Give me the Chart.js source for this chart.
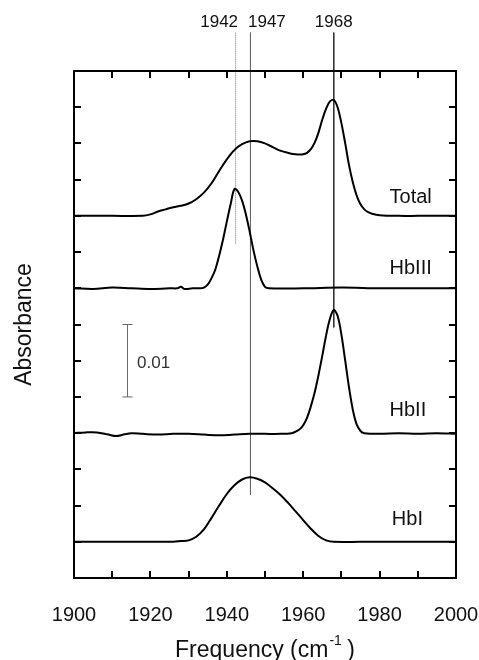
<!DOCTYPE html>
<html>
<head>
<meta charset="utf-8">
<script src="https://cdn.jsdelivr.net/npm/chart.js@4.4.0/dist/chart.umd.min.js"></script>
<style>
  html, body { margin: 0; padding: 0; background: #fff; }
  #wrap { width: 479px; height: 660px; }
</style>
</head>
<body>
<div id="wrap"><canvas id="chart" width="479" height="660"></canvas></div>
<script>
// Spectra (frequency in cm-1, absorbance incl. stacking offset)
const totalFreq = [1900, 1910, 1918, 1920, 1922, 1924, 1926, 1928, 1930, 1932, 1934, 1936, 1938, 1940, 1942, 1944, 1946, 1948, 1950, 1952, 1954, 1956, 1958, 1960, 1961, 1962, 1963, 1964, 1965, 1966, 1967, 1968, 1969, 1970, 1971, 1972, 1973, 1974, 1975, 1976, 1977, 1978, 1980, 1985, 1990, 2000];
const totalAbs  = [0.0500, 0.0500, 0.0500, 0.0502, 0.0506, 0.0509, 0.0512, 0.0514, 0.0517, 0.0523, 0.0532, 0.0545, 0.0562, 0.0578, 0.0591, 0.0599, 0.0603, 0.0603, 0.0600, 0.0595, 0.0590, 0.0587, 0.0585, 0.0585, 0.0587, 0.0592, 0.0601, 0.0615, 0.0633, 0.0648, 0.0658, 0.0660, 0.0650, 0.0628, 0.0600, 0.0570, 0.0546, 0.0528, 0.0516, 0.0509, 0.0505, 0.0503, 0.0501, 0.0500, 0.0500, 0.0500];

const hb3Freq = [1900, 1905, 1910, 1915, 1920, 1925, 1927, 1928, 1929, 1931, 1933, 1934, 1935, 1936, 1937, 1938, 1939, 1940, 1941, 1942, 1943, 1944, 1945, 1946, 1947, 1948, 1949, 1950, 1951, 1960, 1970, 1980, 1990, 2000];
const hb3Abs  = [0.0400, 0.0399, 0.0401, 0.0400, 0.0399, 0.0400, 0.0400, 0.0402, 0.0399, 0.0400, 0.0400, 0.0401, 0.0405, 0.0414, 0.0426, 0.0445, 0.0467, 0.0492, 0.0516, 0.0537, 0.0533, 0.0521, 0.0502, 0.0478, 0.0452, 0.0430, 0.0412, 0.0402, 0.0400, 0.0400, 0.0401, 0.0400, 0.0400, 0.0400];

const hb2Freq = [1900, 1903, 1906, 1909, 1911, 1913, 1915, 1918, 1922, 1926, 1930, 1934, 1938, 1942, 1946, 1950, 1954, 1957, 1958, 1959, 1960, 1961, 1962, 1963, 1964, 1965, 1966, 1967, 1968, 1969, 1970, 1971, 1972, 1973, 1974, 1975, 1976, 1980, 1985, 1990, 1995, 2000];
const hb2Abs  = [0.0200, 0.0201, 0.0201, 0.0198, 0.0196, 0.0198, 0.0200, 0.0199, 0.0198, 0.0199, 0.0199, 0.0198, 0.0197, 0.0198, 0.0199, 0.0199, 0.0199, 0.0200, 0.0202, 0.0205, 0.0211, 0.0221, 0.0237, 0.0256, 0.0280, 0.0307, 0.0335, 0.0358, 0.0370, 0.0362, 0.0336, 0.0300, 0.0263, 0.0232, 0.0212, 0.0203, 0.0200, 0.0199, 0.0200, 0.0199, 0.0200, 0.0199];

const hb1Freq = [1900, 1910, 1920, 1926, 1928, 1930, 1932, 1934, 1936, 1938, 1940, 1942, 1944, 1946, 1948, 1950, 1952, 1954, 1956, 1958, 1960, 1962, 1964, 1966, 1968, 1975, 1990, 2000];
const hb1Abs  = [0.0050, 0.0050, 0.0050, 0.0050, 0.0051, 0.0052, 0.0057, 0.0067, 0.0083, 0.0100, 0.0116, 0.0128, 0.0136, 0.0139, 0.0137, 0.0132, 0.0124, 0.0115, 0.0104, 0.0092, 0.0080, 0.0068, 0.0058, 0.0052, 0.0050, 0.0050, 0.0050, 0.0050];

const seriesNames = ['Total', 'HbIII', 'HbII', 'HbI'];

// Peak marker lines
const peakFreq = [1942.3, 1946.2, 1968.0];
const peakLabels = ['1942', '1947', '1968'];
const peakLineBottom = [0.0461, 0.0115, 0.0346];
const peakLineTop = 0.0753;

// Scale bar (0.01 absorbance)
const barFreq = 1914;
const barAbs = [0.025, 0.035];

const xTickLabels = [1900, 1920, 1940, 1960, 1980, 2000];

const FONT = "'Liberation Sans', Arial, sans-serif";

function pts(xs, ys) {
  return xs.map((v, i) => ({ x: v, y: ys[i] }));
}

function spectrum(label, xs, ys) {
  return {
    label,
    data: pts(xs, ys),
    borderColor: '#000',
    borderWidth: 2,
    pointRadius: 0,
    tension: 0.35,
    fill: false
  };
}

const peakStyles = [
  { color: '#777', dash: [1, 1] },
  { color: '#666', dash: [] },
  { color: '#333', dash: [] }
];

const datasets = [
  spectrum(seriesNames[0], totalFreq, totalAbs),
  spectrum(seriesNames[1], hb3Freq, hb3Abs),
  spectrum(seriesNames[2], hb2Freq, hb2Abs),
  spectrum(seriesNames[3], hb1Freq, hb1Abs)
];

peakFreq.forEach((f, i) => {
  datasets.push({
    label: 'peak ' + peakLabels[i],
    data: [{ x: f, y: peakLineTop }, { x: f, y: peakLineBottom[i] }],
    borderColor: peakStyles[i].color,
    borderDash: peakStyles[i].dash,
    borderWidth: 1,
    pointRadius: 0,
    clip: false
  });
});

datasets.push({
  label: 'scale bar',
  data: barAbs.map(v => ({ x: barFreq, y: v })),
  borderColor: '#666',
  borderWidth: 1,
  pointStyle: 'line',
  pointRadius: 5,
  pointBorderColor: '#666',
  pointBorderWidth: 1
});

// Frame, inward ticks and annotation texts
const overlay = {
  id: 'overlay',
  afterDraw(chart) {
    const { ctx, chartArea: a, scales: { x, y } } = chart;
    ctx.save();
    ctx.strokeStyle = '#000';
    ctx.lineWidth = 2;
    ctx.strokeRect(a.left, a.top, a.right - a.left, a.bottom - a.top);

    const tl = 7;
    ctx.beginPath();
    x.ticks.forEach(t => {
      if (t.value <= x.min || t.value >= x.max) return;
      const px = Math.round(x.getPixelForValue(t.value));
      ctx.moveTo(px, a.bottom); ctx.lineTo(px, a.bottom - tl);
      ctx.moveTo(px, a.top); ctx.lineTo(px, a.top + tl);
    });
    y.ticks.forEach(t => {
      if (t.value <= y.min + 1e-9 || t.value >= y.max - 1e-9) return;
      const py = Math.round(y.getPixelForValue(t.value));
      ctx.moveTo(a.left, py); ctx.lineTo(a.left + tl, py);
      ctx.moveTo(a.right, py); ctx.lineTo(a.right - tl, py);
    });
    ctx.stroke();

    ctx.fillStyle = '#111';
    ctx.textBaseline = 'middle';

    // peak labels above the frame
    ctx.font = '17px ' + FONT;
    ctx.textAlign = 'center';
    const labelFreq = [1938.0, 1950.5, 1968.0];
    peakLabels.forEach((s, i) => ctx.fillText(s, x.getPixelForValue(labelFreq[i]), 22));

    // series names
    ctx.font = '20px ' + FONT;
    ctx.textAlign = 'left';
    const nameAbs = [0.0525, 0.0427, 0.0231, 0.0081];
    const nameFreq = [1982.6, 1982.6, 1982.6, 1983.2];
    seriesNames.forEach((s, i) => ctx.fillText(s, x.getPixelForValue(nameFreq[i]), y.getPixelForValue(nameAbs[i])));

    // scale bar value
    ctx.font = '17px ' + FONT;
    ctx.fillStyle = '#333';
    ctx.fillText('0.01', x.getPixelForValue(1916.5), y.getPixelForValue(0.0297));

    // axis titles
    ctx.fillStyle = '#111';
    ctx.textBaseline = 'alphabetic';
    const main = 'Frequency (cm';
    const sup = '-1';
    const close = ' )';
    ctx.font = '23px ' + FONT;
    const w1 = ctx.measureText(main).width;
    const w3 = ctx.measureText(close).width;
    ctx.font = '14px ' + FONT;
    const w2 = ctx.measureText(sup).width;
    const cx = (a.left + a.right) / 2;
    const sx = cx - (w1 + w2 + w3) / 2;
    ctx.textAlign = 'left';
    ctx.font = '23px ' + FONT;
    ctx.fillText(main, sx, 657);
    ctx.font = '14px ' + FONT;
    ctx.fillText(sup, sx + w1 + 1, 645);
    ctx.font = '23px ' + FONT;
    ctx.fillText(close, sx + w1 + w2, 657);

    ctx.translate(31, (a.top + a.bottom) / 2);
    ctx.rotate(-Math.PI / 2);
    ctx.textAlign = 'center';
    ctx.fillText('Absorbance', 0, 0);
    ctx.restore();
  }
};

new Chart(document.getElementById('chart'), {
  type: 'line',
  data: { datasets },
  options: {
    responsive: false,
    animation: false,
    layout: { padding: { left: 74, right: 23, top: 71, bottom: 0 } },
    plugins: { legend: { display: false }, tooltip: { enabled: false } },
    scales: {
      x: {
        type: 'linear',
        min: 1900,
        max: 2000,
        grid: { display: false, drawTicks: false },
        border: { display: false },
        afterFit: s => {
          s.height = 82;
          s.paddingLeft = 0;
          s.paddingRight = 0;
        },
        ticks: {
          stepSize: 10,
          autoSkip: false,
          maxRotation: 0,
          padding: 25,
          color: '#111',
          font: { family: FONT, size: 20 },
          callback: v => xTickLabels.includes(v) ? String(v) : ''
        }
      },
      y: {
        display: false,
        min: 0,
        max: 0.07,
        ticks: { stepSize: 0.005 }
      }
    }
  },
  plugins: [overlay]
});
</script>
</body>
</html>
